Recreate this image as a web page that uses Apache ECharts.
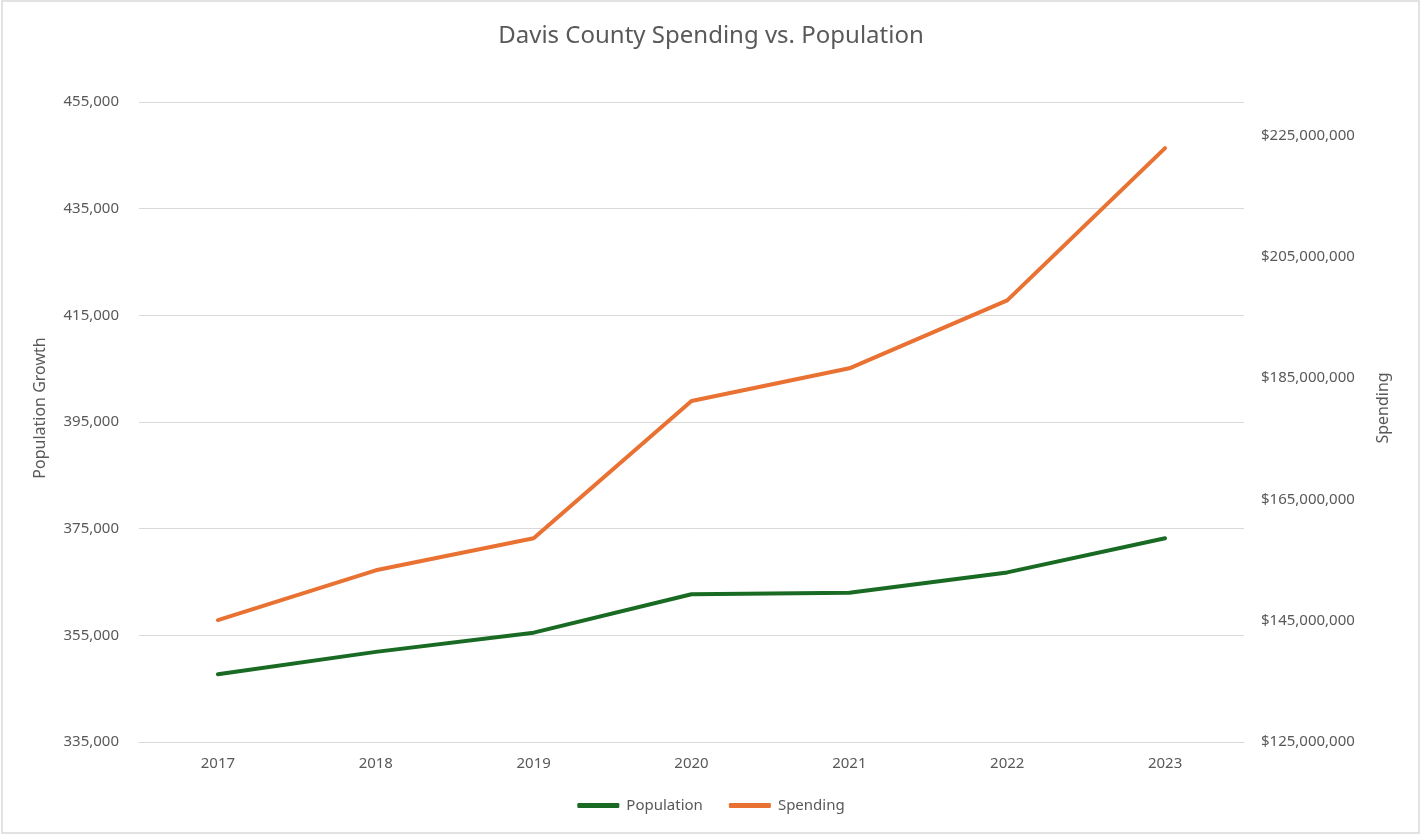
<!DOCTYPE html>
<html>
<head>
<meta charset="utf-8">
<title>Davis County Spending vs. Population</title>
<script src="https://cdn.jsdelivr.net/npm/echarts@6/dist/echarts.min.js"></script>
<style>
  html, body { margin: 0; padding: 0; background: #fff; }
  #main { width: 1422px; height: 836px; }
</style>
</head>
<body>
<div id="main"></div>
<script>
var years = ['2017', '2018', '2019', '2020', '2021', '2022', '2023'];
var population = [347700, 351900, 355500, 362700, 363000, 366800, 373200];
var spending = [145100000, 153300000, 158600000, 181200000, 186600000, 197800000, 222900000];

var popTicks = { min: 335000, max: 455000, step: 20000 };
var spendTicks = { min: 125000000, max: 230500000, step: 20000000 };

var grey = '#595959';
var font = 'Noto Sans';

var myChart = echarts.init(document.getElementById('main'));
var option = {
  backgroundColor: '#fff',
  title: {
    text: 'Davis County Spending vs. Population',
    left: 'center',
    top: 19,
    textStyle: { color: grey, fontSize: 24, fontWeight: 'normal', fontFamily: font }
  },
  legend: {
    bottom: 18,
    left: 'center',
    icon: 'roundRect',
    itemWidth: 42,
    itemHeight: 5,
    itemGap: 26,
    textStyle: { color: grey, fontSize: 15, fontFamily: font, padding: [0, 0, 0, 2] },
    data: ['Population', 'Spending']
  },
  grid: { left: 139, right: 178, top: 102, bottom: 94 },
  graphic: [
    // chart border
    { type: 'rect', shape: { x: 2, y: 1, width: 1417, height: 832 },
      style: { fill: 'none', stroke: '#d9d9d9', lineWidth: 1.5 }, silent: true },
    { type: 'text', x: 40, y: 408, rotation: Math.PI / 2,
      style: { text: 'Population Growth', fill: grey, fontSize: 16, fontFamily: font,
               align: 'center', verticalAlign: 'middle' } },
    { type: 'text', x: 1383, y: 408, rotation: Math.PI / 2,
      style: { text: 'Spending', fill: grey, fontSize: 16, fontFamily: font,
               align: 'center', verticalAlign: 'middle' } }
  ],
  xAxis: {
    type: 'category',
    data: years,
    boundaryGap: true,
    axisLine: { lineStyle: { color: '#d9d9d9' } },
    axisTick: { show: false },
    axisLabel: { color: grey, fontSize: 15, fontFamily: font, margin: 14 }
  },
  yAxis: [{
    type: 'value',
    min: popTicks.min,
    max: popTicks.max,
    interval: popTicks.step,
    axisLine: { show: false },
    axisTick: { show: false },
    splitLine: { lineStyle: { color: '#d9d9d9', width: 1 } },
    axisLabel: {
      color: grey, fontSize: 15, fontFamily: font, margin: 20,
      formatter: function (v) { return v.toLocaleString('en-US'); }
    }
  }, {
    type: 'value',
    min: spendTicks.min,
    max: spendTicks.max,
    interval: spendTicks.step,
    axisLine: { show: false },
    axisTick: { show: false },
    splitLine: { show: false },
    axisLabel: {
      color: grey, fontSize: 15, fontFamily: font, margin: 17,
      showMaxLabel: false,
      formatter: function (v) { return '$' + v.toLocaleString('en-US'); }
    }
  }],
  series: [{
    name: 'Population',
    type: 'line',
    yAxisIndex: 0,
    data: population,
    symbol: 'none',
    color: '#196b24',
    lineStyle: { width: 4, cap: 'round', join: 'round' }
  }, {
    name: 'Spending',
    type: 'line',
    yAxisIndex: 1,
    data: spending,
    symbol: 'none',
    color: '#e97132',
    lineStyle: { width: 4, cap: 'round', join: 'round' }
  }]
};
myChart.setOption(option);
</script>
</body>
</html>
